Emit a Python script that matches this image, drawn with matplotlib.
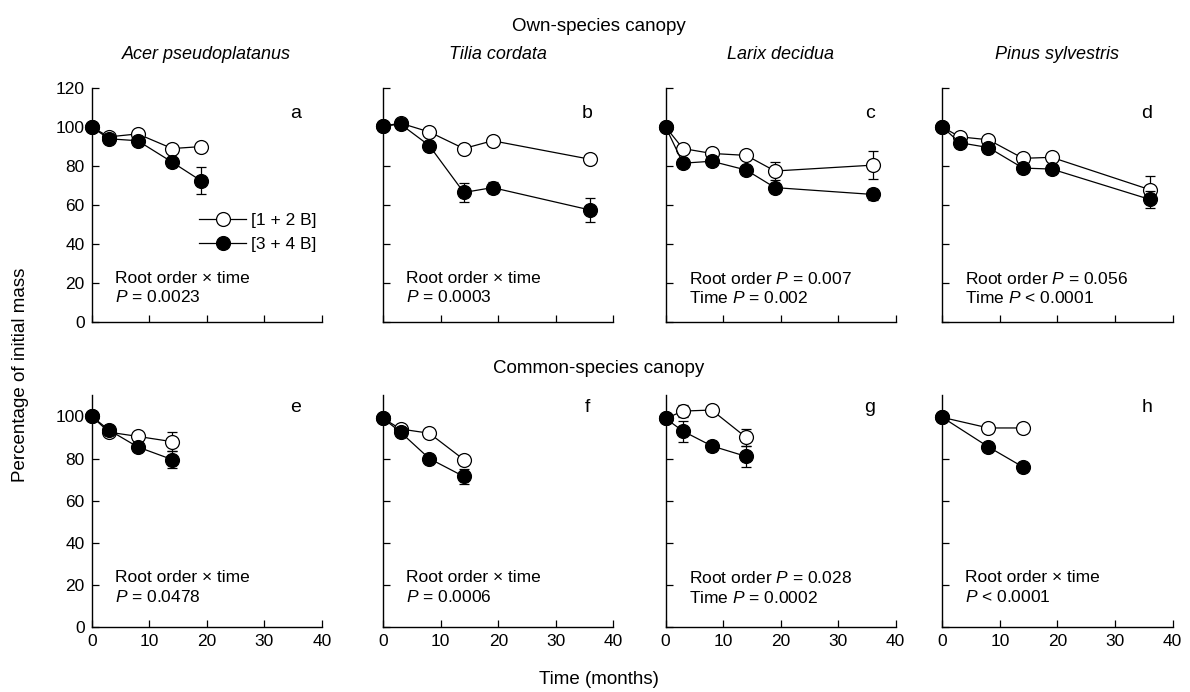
import matplotlib
matplotlib.use("Agg")
import matplotlib.pyplot as plt
from matplotlib.lines import Line2D

plt.rcParams['font.family'] = ['Liberation Sans', 'DejaVu Sans']
plt.rcParams['mathtext.fontset'] = 'custom'
plt.rcParams['mathtext.rm'] = 'Liberation Sans'
plt.rcParams['mathtext.it'] = 'Liberation Sans:italic'

# ---------------- data ----------------
species = ["Acer pseudoplatanus", "Tilia cordata", "Larix decidua", "Pinus sylvestris"]
letters_top = ["a", "b", "c", "d"]
letters_bot = ["e", "f", "g", "h"]
legend_labels = ["[1 + 2 B]", "[3 + 4 B]"]

# Own-species canopy (top row)
a_t = [0, 3, 8, 14, 19]
a_open = [100, 95, 96.5, 89, 90]
a_open_err = [0, 0, 0, 0, 0]
a_fill = [100, 94, 93, 82, 72.5]
a_fill_err = [0, 0, 0, 2, 7]

b_t = [0, 3, 8, 14, 19, 36]
b_open = [100.5, 102, 97.5, 89, 93, 83.5]
b_open_err = [0, 0, 0, 0, 0, 0]
b_fill = [100.5, 101.5, 90.5, 66.5, 69, 57.5]
b_fill_err = [0, 0, 0, 5, 3, 6]

c_t = [0, 3, 8, 14, 19, 36]
c_open = [100, 89, 86.5, 85.5, 77.5, 80.5]
c_open_err = [0, 0, 0, 0, 4.5, 7]
c_fill = [100, 81.5, 82.5, 78, 69, 65.5]
c_fill_err = [0, 0, 0, 0, 0, 3]

d_t = [0, 3, 8, 14, 19, 36]
d_open = [100, 95, 93.5, 84, 84.5, 68]
d_open_err = [0, 0, 0, 0, 0, 7]
d_fill = [100, 92, 89.5, 79, 78.5, 63]
d_fill_err = [0, 0, 0, 0, 0, 4.5]

# Common-species canopy (bottom row)
e_t = [0, 3, 8, 14]
e_open = [100, 92.5, 90.5, 88]
e_open_err = [0, 0, 0, 4.5]
e_fill = [100, 93.5, 85.5, 79.5]
e_fill_err = [0, 0, 0, 4]

f_t = [0, 3, 8, 14]
f_open = [99, 94, 92, 79.5]
f_open_err = [0, 0, 0, 0]
f_fill = [99, 92.5, 80, 71.5]
f_fill_err = [0, 0, 0, 3.5]

g_t = [0, 3, 8, 14]
g_open = [99, 102.5, 103, 90]
g_open_err = [0, 3, 0, 4]
g_fill = [99, 93, 86, 81]
g_fill_err = [0, 5, 2.5, 5]

h_t = [0, 8, 14]
h_open = [99.5, 94.5, 94.5]
h_open_err = [0, 0, 0]
h_fill = [99.5, 85.5, 76]
h_fill_err = [0, 0, 0]

stats_top = ["Root order \u00d7 time\n$P$ = 0.0023",
             "Root order \u00d7 time\n$P$ = 0.0003",
             "Root order $P$ = 0.007\nTime $P$ = 0.002",
             "Root order $P$ = 0.056\nTime $P$ < 0.0001"]
stats_bot = ["Root order \u00d7 time\n$P$ = 0.0478",
             "Root order \u00d7 time\n$P$ = 0.0006",
             "Root order $P$ = 0.028\nTime $P$ = 0.0002",
             "Root order \u00d7 time\n$P$ < 0.0001"]

top_data = [(a_t, a_open, a_open_err, a_fill, a_fill_err),
            (b_t, b_open, b_open_err, b_fill, b_fill_err),
            (c_t, c_open, c_open_err, c_fill, c_fill_err),
            (d_t, d_open, d_open_err, d_fill, d_fill_err)]
bot_data = [(e_t, e_open, e_open_err, e_fill, e_fill_err),
            (f_t, f_open, f_open_err, f_fill, f_fill_err),
            (g_t, g_open, g_open_err, g_fill, g_fill_err),
            (h_t, h_open, h_open_err, h_fill, h_fill_err)]

x_ticks = [0, 10, 20, 30, 40]
y_ticks_top = [0, 20, 40, 60, 80, 100, 120]
y_ticks_bot = [0, 20, 40, 60, 80, 100]

# ---------------- figure ----------------
fig = plt.figure(figsize=(11.9, 6.92), dpi=100)
lefts = [0.0771, 0.3221, 0.5594, 0.7920]
width = 0.1933
top_b, top_h = 0.5342, 0.3386
bot_b, bot_h = 0.0935, 0.3353

FS = 12.5
ms = 10
lw = 0.9


def draw(ax, data, ylim, yticks, letter, stat, letter_y, stat_y, show_ylab, show_xlab):
    t, op, ope, fl, fle = data
    ax.errorbar(t, op, yerr=ope, fmt='-o', color='black', mfc='white', mec='black',
                ms=ms, mew=0.9, lw=lw, elinewidth=0.9, capsize=3.5, capthick=0.9,
                clip_on=False, zorder=3)
    ax.errorbar(t, fl, yerr=fle, fmt='-o', color='black', mfc='black', mec='black',
                ms=ms, mew=0.9, lw=lw, elinewidth=0.9, capsize=3.5, capthick=0.9,
                clip_on=False, zorder=4)
    ax.set_xlim(0, 40)
    ax.set_ylim(*ylim)
    ax.set_xticks(x_ticks)
    ax.set_yticks(yticks)
    for s in ['top', 'right']:
        ax.spines[s].set_visible(False)
    for s in ['left', 'bottom']:
        ax.spines[s].set_linewidth(1.0)
    ax.tick_params(direction='in', length=5, width=0.9, labelsize=12.5, pad=5)
    if not show_ylab:
        ax.set_yticklabels([])
    if not show_xlab:
        ax.set_xticklabels([])
    ax.text(35.5, letter_y, letter, fontsize=14, ha='center', va='center')
    ax.text(4, stat_y, stat, fontsize=FS, ha='left', va='top', linespacing=1.3)


top_axes = []
for i in range(4):
    ax = fig.add_axes([lefts[i], top_b, width, top_h])
    draw(ax, top_data[i], (0, 120), y_ticks_top, letters_top[i], stats_top[i],
         107, 26.5, i == 0, False)
    ax.set_title(species[i], fontsize=13, style='italic', pad=21)
    top_axes.append(ax)

for i in range(4):
    ax = fig.add_axes([lefts[i], bot_b, width, bot_h])
    draw(ax, bot_data[i], (0, 110), y_ticks_bot, letters_bot[i], stats_bot[i],
         104, 27, i == 0, True)

# legend in panel a
h_open = Line2D([], [], color='black', lw=lw, marker='o', ms=ms, mfc='white', mec='black', mew=0.9)
h_fill = Line2D([], [], color='black', lw=lw, marker='o', ms=ms, mfc='black', mec='black', mew=0.9)
top_axes[0].legend([h_open, h_fill], legend_labels, loc='center left',
                   bbox_to_anchor=(0.43, 0.385), frameon=False, fontsize=FS,
                   handlelength=2.7, handletextpad=0.3, labelspacing=0.5, borderpad=0)

fig.text(0.503, 0.962, "Own-species canopy", fontsize=13.5, ha='center', va='center')
fig.text(0.503, 0.468, "Common-species canopy", fontsize=13.5, ha='center', va='center')
fig.text(0.503, 0.018, "Time (months)", fontsize=13.5, ha='center', va='center')
fig.text(0.017, 0.458, "Percentage of initial mass", fontsize=13.5, ha='center',
         va='center', rotation=90)

fig.savefig("out.png", dpi=100)
